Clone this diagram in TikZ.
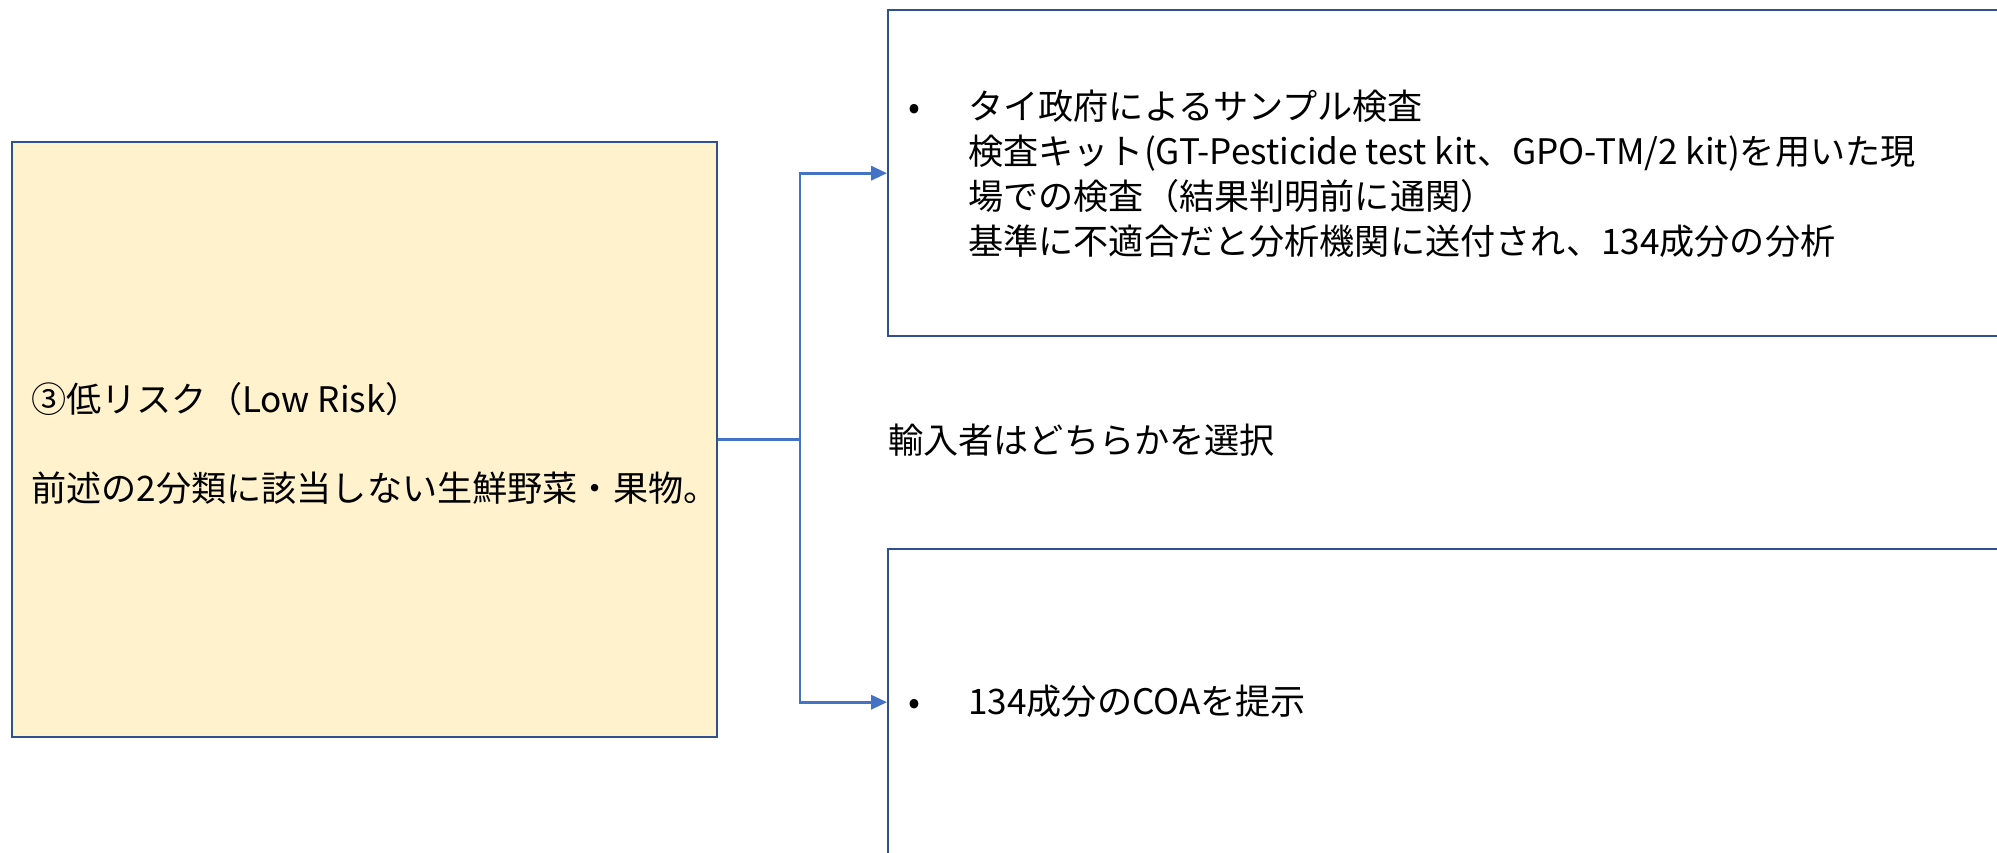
\documentclass[tikz,border=0pt]{standalone}
\usepackage{fontspec}
\setmainfont{Noto Sans CJK JP}
\usetikzlibrary{arrows.meta}
\definecolor{boxline}{HTML}{2F528F}
\definecolor{linkblue}{HTML}{4472C4}
\definecolor{riskfill}{HTML}{FFF2CC}
\begin{document}
\fontsize{20pt}{25.5pt}\selectfont
\begin{tikzpicture}[x=0.02cm, y=-0.02cm,
    panel/.style={draw=boxline, line width=1.4pt, rectangle, anchor=north west, inner sep=0pt},
    link/.style={draw=linkblue, line width=1.6pt},
    txt/.style={anchor=west, inner sep=0pt, align=left}]
                \useasboundingbox (0, 0) rectangle (1997, 852);
                \clip (0, 0) rectangle (1997, 852);
                % Risk class
                \node [panel, fill=riskfill, minimum width=14.1cm, minimum height=11.9cm] (risk) at (11, 141) {};
                \node [txt] (risktitle) at (31, 399) {③低リスク（Low Risk）};
                \node [txt] (riskbody) at (31, 488) {前述の2分類に該当しない生鮮野菜・果物。};
                % Options
                \node [panel, fill=white, minimum width=22.7cm, minimum height=6.52cm] (govtest) at (887, 9) {};
                \node [txt] (govtesttext) at (908, 178) {\begin{tabular}{@{}p{1.2cm}@{}l@{}}
                    • & タイ政府によるサンプル検査\\
                      & 検査キット(GT-Pesticide test kit、GPO-TM/2 kit)を用いた現\\
                      & 場での検査（結果判明前に通関）\\
                      & 基準に不適合だと分析機関に送付され、134成分の分析
                    \end{tabular}};
                \node [panel, fill=white, minimum width=22.7cm, minimum height=6.12cm] (coa) at (887, 548) {};
                \node [txt] (coatext) at (908, 706) {\begin{tabular}{@{}p{1.2cm}@{}l@{}}
                    • & 134成分のCOAを提示
                    \end{tabular}};
                \node [txt] (choice) at (888, 440) {輸入者はどちらかを選択};
                % Connectors
                \coordinate (fork) at (800, 440);
                \draw [link] (risk.east) -- (risk.east -| fork);
                \draw [link, -{Triangle[length=9pt, width=8pt]}] (risk.east -| fork) |- (govtest.west);
                \draw [link, -{Triangle[length=9pt, width=8pt]}] (risk.east -| fork) |- (coa.west);
\end{tikzpicture}
\end{document}
